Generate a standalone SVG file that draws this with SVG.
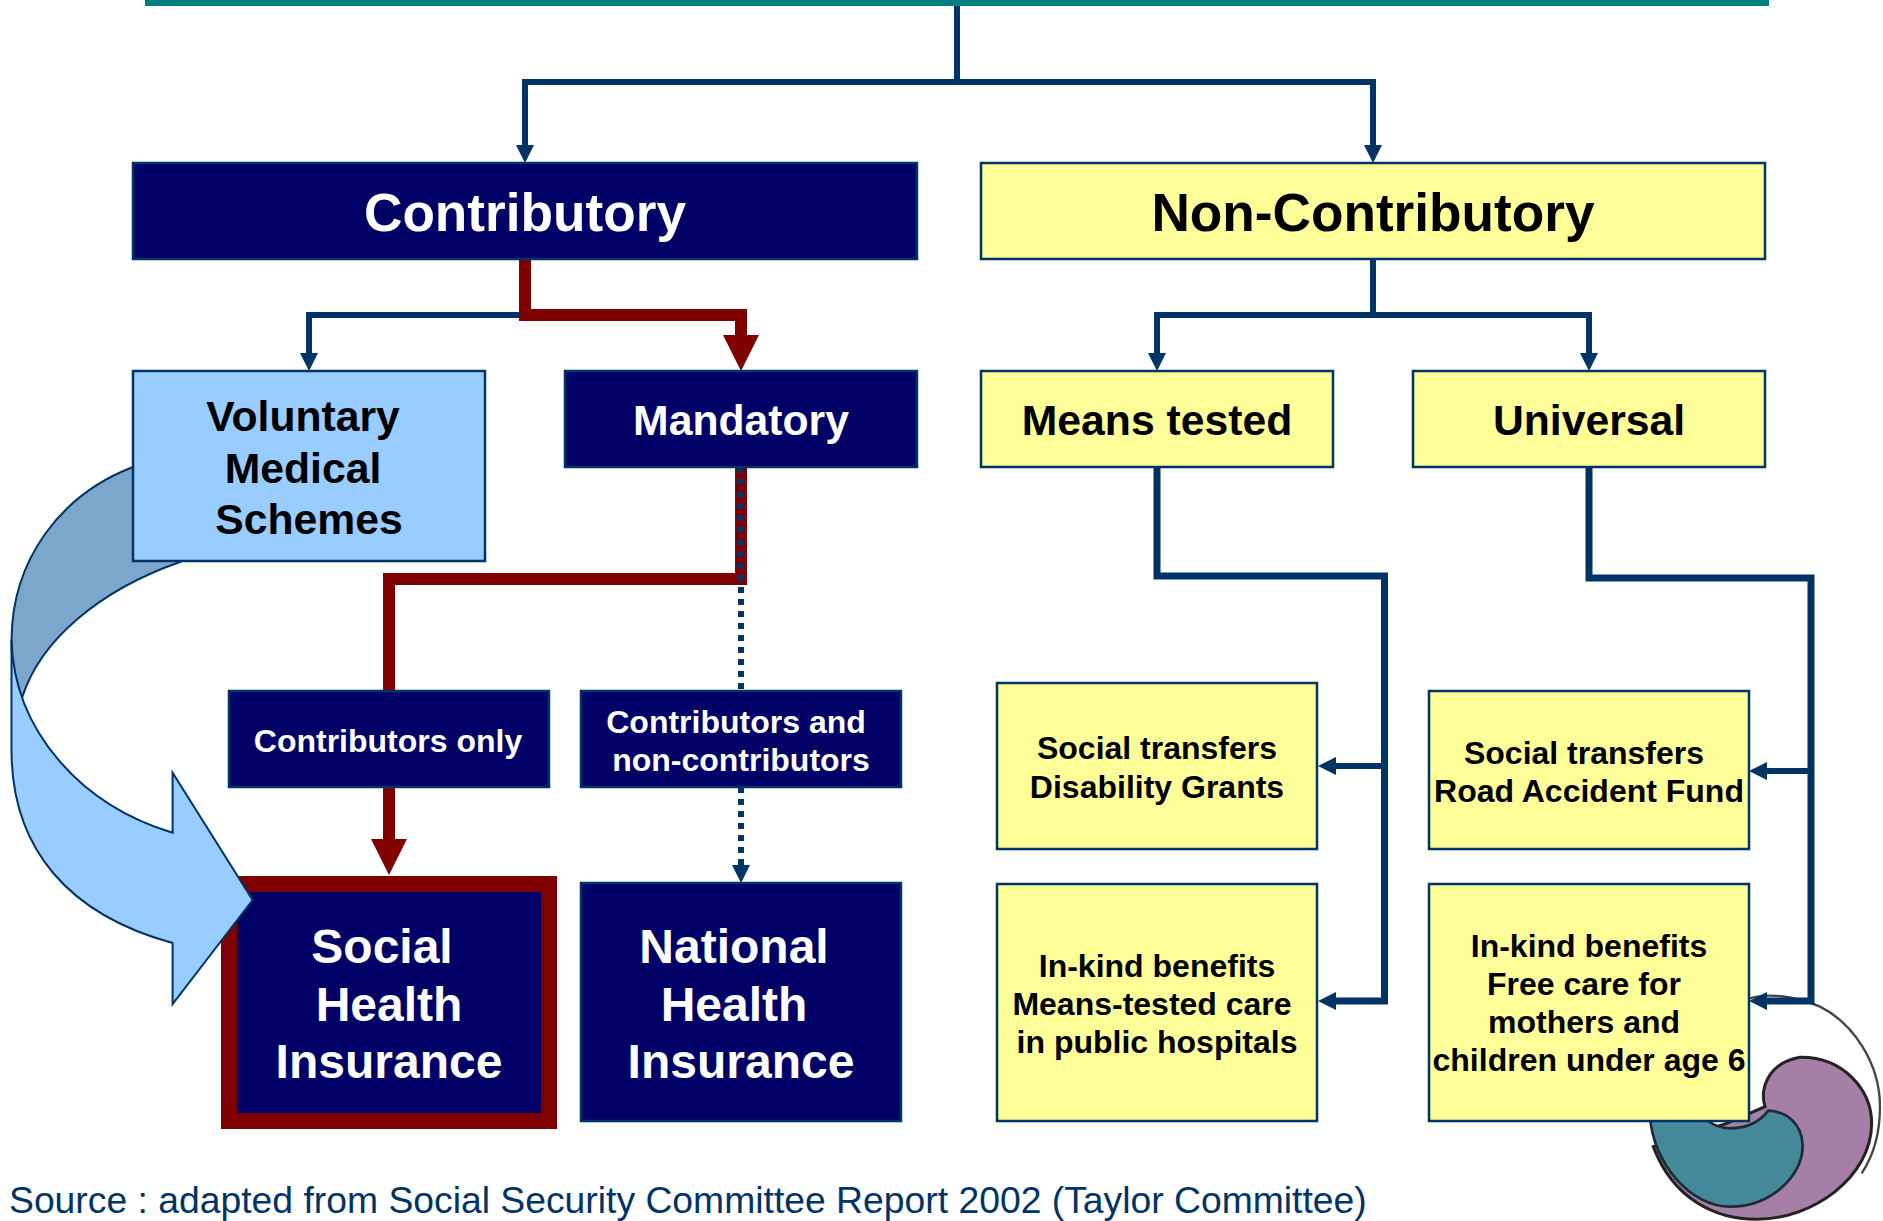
<svg xmlns="http://www.w3.org/2000/svg" width="1883" height="1221" viewBox="0 0 1883 1221">
<style>
text{font-family:"Liberation Sans",Arial,sans-serif;font-weight:700;text-anchor:middle}
.n{fill:#000066;stroke:#003366;stroke-width:2.500}
.y{fill:#FFFF99;stroke:#003366;stroke-width:2.500}
.b{fill:#99CCFF;stroke:#003366;stroke-width:2.500}
.w{fill:#fff}.k{fill:#000}
.f53{font-size:53.200px}.f42{font-size:42.700px}.f48{font-size:48px}.f32{font-size:32px}
.blue{fill:none;stroke:#003366;stroke-width:6}
.med{fill:none;stroke:#003366;stroke-width:7}
.red{fill:none;stroke:#800000;stroke-width:12}
</style>
<defs>
<marker id="ab" markerUnits="userSpaceOnUse" markerWidth="18" markerHeight="18" refX="0" refY="9" orient="auto"><path d="M0 0L18 9L0 18Z" fill="#003366"/></marker>
<marker id="ar" markerUnits="userSpaceOnUse" markerWidth="36" markerHeight="36" refX="0" refY="18" orient="auto"><path d="M0 0L36 18L0 36Z" fill="#800000"/></marker>
<filter id="sh" x="-5%" y="-5%" width="110%" height="110%"><feGaussianBlur stdDeviation="0.700"/></filter>
</defs>
<rect width="1883" height="1221" fill="#fff"/>
<g id="logo" transform="translate(1560 950) scale(.3333)">
<path d="M570 145C620 130 700 135 780 170C880 220 960 340 960 470C960 540 945 610 905 670" fill="none" stroke="#444" stroke-width="7" filter="url(#sh)"/>
<path d="M615 470C600 420 620 340 720 322C850 320 935 420 935 520C935 680 760 808 590 808C470 808 340 750 280 590L500 520Z" fill="#A67FA6" stroke="#222" stroke-width="9" filter="url(#sh)"/>
<path d="M270 500C280 640 390 770 510 770C630 770 730 680 728 585C725 520 680 485 625 482C600 515 560 535 510 535C480 535 460 525 440 510Z" fill="#44889A" stroke="#1c2c35" stroke-width="8" filter="url(#sh)"/>
</g>
<g id="curved-arrow-back">
<path d="M180 562C100 590 40 640 22 698C12 670 11.500 655 11.500 640C12 560 60 495 133 467L200 440L220 540Z" fill="#7DA6CC" stroke="#003366" stroke-width="2"/>
</g>
<g id="top-bar"><rect x="145" y="0" width="1624" height="6" fill="#008080"/></g>
<g id="connectors">
<path class="blue" d="M957 6V85"/>
<path class="blue" marker-end="url(#ab)" d="M957 82H525V145"/>
<path class="blue" marker-end="url(#ab)" d="M957 82H1373V145"/>
<path class="blue" marker-end="url(#ab)" d="M525 315H309V353"/>
<path class="blue" d="M1373 260V315"/>
<path class="blue" marker-end="url(#ab)" d="M1373 315H1157V353"/>
<path class="blue" marker-end="url(#ab)" d="M1373 315H1589V353"/>
<path class="red" marker-end="url(#ar)" d="M525 260V315H741V335"/>
<path class="red" d="M741 467V579H389V690"/>
<path class="red" marker-end="url(#ar)" d="M389 787V839"/>
<path class="blue" stroke-dasharray="6 6" d="M741 467V690"/>
<path class="blue" stroke-dasharray="6 6" d="M741 787V866"/>
<path class="blue" marker-end="url(#ab)" d="M741 864V865"/>
<path class="med" marker-end="url(#ab)" d="M1157 467V576H1384.500V1001H1336"/>
<path class="blue" marker-end="url(#ab)" d="M1385 766H1336"/>
<path class="med" marker-end="url(#ab)" d="M1589 467V578H1811V1001H1767"/>
<path class="blue" marker-end="url(#ab)" d="M1811 771H1767"/>
</g>
<g id="contributory"><rect class="n" x="133" y="163" width="784" height="96"/><text class="w f53" x="525" y="231">Contributory</text></g>
<g id="non-contributory"><rect class="y" x="981" y="163" width="784" height="96"/><text class="k f53" x="1373" y="231">Non-Contributory</text></g>
<g id="voluntary"><rect class="b" x="133" y="371" width="352" height="190"/>
<text class="k f42" x="303" y="431">Voluntary</text><text class="k f42" x="303" y="483">Medical</text><text class="k f42" x="309" y="534">Schemes</text></g>
<g id="mandatory"><rect class="n" x="565" y="371" width="352" height="96"/><text class="w f42" x="741" y="435">Mandatory</text></g>
<g id="means-tested"><rect class="y" x="981" y="371" width="352" height="96"/><text class="k f42" x="1157" y="435">Means tested</text></g>
<g id="universal"><rect class="y" x="1413" y="371" width="352" height="96"/><text class="k f42" x="1589" y="435">Universal</text></g>
<g id="contributors-only"><rect class="n" x="229" y="691" width="320" height="96"/><text class="w f32" x="388" y="752">Contributors only</text></g>
<g id="contributors-and"><rect class="n" x="581" y="691" width="320" height="96"/><text class="w f32" x="736" y="733">Contributors and</text><text class="w f32" x="741" y="771">non-contributors</text></g>
<g id="shi"><rect x="229" y="884" width="320" height="237" fill="#000066" stroke="#800000" stroke-width="16"/>
<text class="w f48" x="382" y="963">Social</text><text class="w f48" x="389" y="1021">Health</text><text class="w f48" x="389" y="1078">Insurance</text></g>
<g id="nhi"><rect class="n" x="581" y="883" width="320" height="238"/>
<text class="w f48" x="734" y="963">National</text><text class="w f48" x="734" y="1021">Health</text><text class="w f48" x="741" y="1078">Insurance</text></g>
<g id="disability"><rect class="y" x="997" y="683" width="320" height="166"/>
<text class="k f32" x="1157" y="759">Social transfers</text><text class="k f32" x="1157" y="798">Disability Grants</text></g>
<g id="means-care"><rect class="y" x="997" y="884" width="320" height="237"/>
<text class="k f32" x="1157" y="977">In-kind benefits</text><text class="k f32" x="1152" y="1015">Means-tested care</text><text class="k f32" x="1157" y="1053">in public hospitals</text></g>
<g id="road"><rect class="y" x="1429" y="691" width="320" height="158"/>
<text class="k f32" x="1584" y="764">Social transfers</text><text class="k f32" x="1589" y="802">Road Accident Fund</text></g>
<g id="free-care"><rect class="y" x="1429" y="884" width="320" height="237"/>
<text class="k f32" x="1589" y="957">In-kind benefits</text><text class="k f32" x="1584" y="995">Free care for</text><text class="k f32" x="1584" y="1033">mothers and</text><text class="k f32" x="1589" y="1071">children under age 6</text></g>
<g id="curved-arrow-front">
<path d="M11.500 640C14 730 80 805 172.600 832.700V772.700L252.600 900L172.600 1004V943C70 915 11.500 850 11.500 750Z" fill="#99CCFF" stroke="#003366" stroke-width="2"/>
</g>
<text x="9" y="1213" style="font-weight:400;text-anchor:start;font-size:37.300px;fill:#003366">Source : adapted from Social Security Committee Report 2002 (Taylor Committee)</text>
</svg>
